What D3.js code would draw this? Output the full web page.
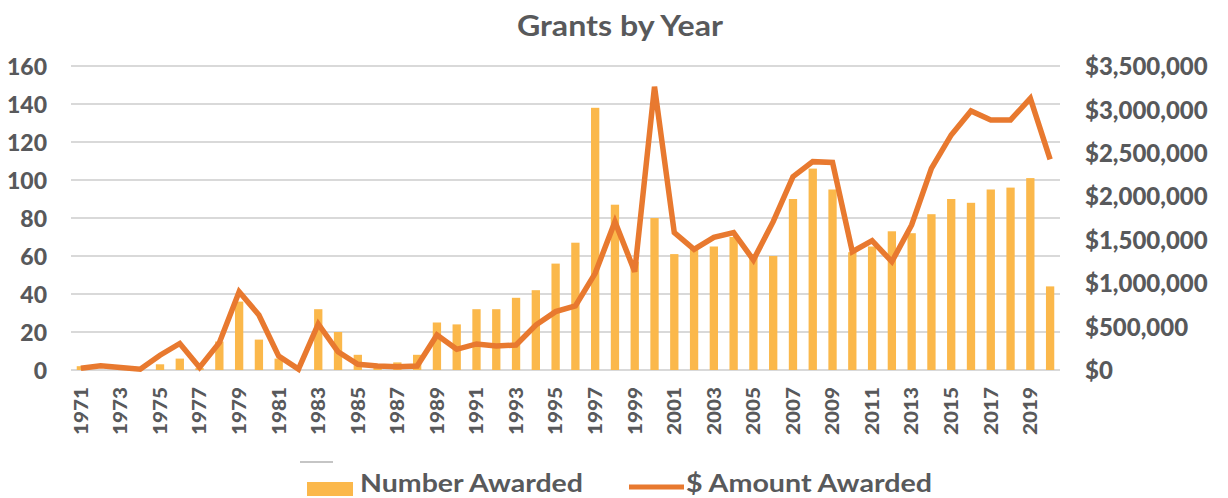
<!DOCTYPE html>
<html>
<head>
<meta charset="utf-8">
<script src="https://cdn.jsdelivr.net/npm/d3@7/dist/d3.min.js"></script>
<style>
  html, body { margin: 0; padding: 0; background: #ffffff; }
  svg { display: block; }
</style>
</head>
<body>
<svg id="chart" width="1228" height="498"></svg>
<script>
// Grants awarded per year: count of grants (bars) and dollar amount (line)
const years = [
  1971, 1972, 1973, 1974, 1975, 1976, 1977, 1978, 1979, 1980,
  1981, 1982, 1983, 1984, 1985, 1986, 1987, 1988, 1989, 1990,
  1991, 1992, 1993, 1994, 1995, 1996, 1997, 1998, 1999, 2000,
  2001, 2002, 2003, 2004, 2005, 2006, 2007, 2008, 2009, 2010,
  2011, 2012, 2013, 2014, 2015, 2016, 2017, 2018, 2019, 2020
];

const numberAwarded = [
  2, 0, 0, 0, 3, 6, 1, 15, 36, 16,
  6, 0, 32, 20, 8, 3, 4, 8, 25, 24,
  32, 32, 38, 42, 56, 67, 138, 87, 57, 80,
  61, 64, 65, 70, 61, 60, 90, 106, 95, 62,
  65, 73, 72, 82, 90, 88, 95, 96, 101, 44
];

const amountAwarded = [
  20000, 50000, 30000, 10000, 170000, 305000, 30000, 315000, 900000, 633000,
  160000, 10000, 530000, 210000, 65000, 46000, 38000, 45000, 403000, 238000,
  300000, 276000, 288000, 518000, 672000, 737000, 1113000, 1708000, 1132000, 3262000,
  1581000, 1389000, 1528000, 1581000, 1267000, 1708000, 2226000, 2399000, 2390000, 1362000,
  1489000, 1247000, 1670000, 2322000, 2706000, 2982000, 2879000, 2879000, 3128000, 2426000
];

const countTicks = [0, 20, 40, 60, 80, 100, 120, 140, 160];
const amountTicks = [0, 500000, 1000000, 1500000, 2000000, 2500000, 3000000, 3500000];
const yearLabels = years.filter((y, i) => i % 2 === 0);

const titleText = "Grants by Year";
const legendBars = "Number Awarded";
const legendLine = "$ Amount Awarded";

const textColor = "#58595b";
const barColor = "#fbb84b";
const lineColor = "#e8792f";
const gridColor = "#d9d9d9";
const numFont = "Lato, 'Open Sans', sans-serif";

const svg = d3.select("#chart");

const plot = { left: 71, right: 1060, top: 66, bottom: 370 };

const x = d3.scaleBand()
  .domain(years)
  .range([plot.left, plot.right])
  .paddingInner(0.58)
  .paddingOuter(0.29);

const yCount = d3.scaleLinear().domain([0, 160]).range([plot.bottom, plot.top]);
const yAmount = d3.scaleLinear().domain([0, 3500000]).range([plot.bottom, plot.top]);

// Title
svg.append("text")
  .attr("x", 620)
  .attr("y", 36)
  .attr("text-anchor", "middle")
  .attr("font-family", numFont)
  .attr("font-weight", 700)
  .attr("font-size", 28)
  .attr("textLength", 206)
  .attr("lengthAdjust", "spacingAndGlyphs")
  .attr("fill", textColor)
  .text(titleText);

// Horizontal gridlines
svg.append("g")
  .selectAll("line")
  .data(countTicks)
  .join("line")
  .attr("x1", plot.left)
  .attr("x2", plot.right)
  .attr("y1", d => yCount(d))
  .attr("y2", d => yCount(d))
  .attr("stroke", gridColor)
  .attr("stroke-width", 2);

// Left axis (count)
const leftAxis = svg.append("g")
  .attr("transform", `translate(${plot.left - 24},0)`)
  .call(d3.axisLeft(yCount).tickValues(countTicks).tickSize(0).tickPadding(0).tickFormat(d3.format("d")));
leftAxis.select(".domain").remove();
leftAxis.selectAll("text")
  .attr("font-family", numFont)
  .attr("font-weight", 900)
  .attr("font-size", 23)
  .attr("fill", textColor)
  .attr("dy", "0.36em");

// Right axis (dollar amount)
const rightAxis = svg.append("g")
  .attr("transform", `translate(${plot.right + 25},0)`)
  .call(d3.axisRight(yAmount).tickValues(amountTicks).tickSize(0).tickPadding(0)
    .tickFormat(d => "$" + d3.format(",")(d)));
rightAxis.select(".domain").remove();
rightAxis.selectAll("text")
  .attr("font-family", numFont)
  .attr("font-weight", 900)
  .attr("font-size", 24)
  .attr("fill", textColor)
  .attr("dy", "0.36em");

// Bottom axis (years, every other label, rotated)
const bottomAxis = svg.append("g")
  .attr("transform", `translate(0,${plot.bottom})`)
  .call(d3.axisBottom(x).tickValues(yearLabels).tickSize(0).tickPadding(0));
bottomAxis.select(".domain").remove();
bottomAxis.selectAll("text")
  .attr("font-family", numFont)
  .attr("font-weight", 900)
  .attr("font-size", 19)
  .attr("textLength", 48)
  .attr("lengthAdjust", "spacingAndGlyphs")
  .attr("fill", textColor)
  .attr("text-anchor", "end")
  .attr("transform", "translate(0,17) rotate(-90)")
  .attr("dx", 0)
  .attr("dy", "0.36em")
  .attr("y", 0)
  .attr("x", 0);

// Bars: number awarded
svg.append("g")
  .selectAll("rect")
  .data(years)
  .join("rect")
  .attr("x", d => x(d))
  .attr("width", x.bandwidth())
  .attr("y", (d, i) => yCount(numberAwarded[i]))
  .attr("height", (d, i) => yCount(0) - yCount(numberAwarded[i]))
  .attr("fill", barColor);

// Line: dollar amount awarded
const line = d3.line()
  .x((d, i) => x(years[i]) + x.bandwidth() / 2)
  .y(d => yAmount(d));

svg.append("path")
  .datum(amountAwarded)
  .attr("d", line)
  .attr("fill", "none")
  .attr("stroke", lineColor)
  .attr("stroke-width", 5.5)
  .attr("stroke-linejoin", "miter")
  .attr("stroke-linecap", "butt");

// Legend
const legend = svg.append("g");
legend.append("line")
  .attr("x1", 300).attr("x2", 333)
  .attr("y1", 462).attr("y2", 462)
  .attr("stroke", "#8c8c8c")
  .attr("stroke-width", 1.2);
legend.append("rect")
  .attr("x", 307).attr("y", 482)
  .attr("width", 46).attr("height", 14)
  .attr("fill", barColor);
legend.append("text")
  .attr("x", 360).attr("y", 492)
  .attr("font-family", numFont)
  .attr("font-weight", 700)
  .attr("font-size", 24)
  .attr("textLength", 223)
  .attr("lengthAdjust", "spacingAndGlyphs")
  .attr("fill", textColor)
  .text(legendBars);
legend.append("line")
  .attr("x1", 629).attr("x2", 684)
  .attr("y1", 487).attr("y2", 487)
  .attr("stroke", lineColor)
  .attr("stroke-width", 5);
legend.append("text")
  .attr("x", 686).attr("y", 492)
  .attr("font-family", numFont)
  .attr("font-weight", 700)
  .attr("font-size", 24)
  .attr("textLength", 246)
  .attr("lengthAdjust", "spacingAndGlyphs")
  .attr("fill", textColor)
  .text(legendLine);
</script>
</body>
</html>
